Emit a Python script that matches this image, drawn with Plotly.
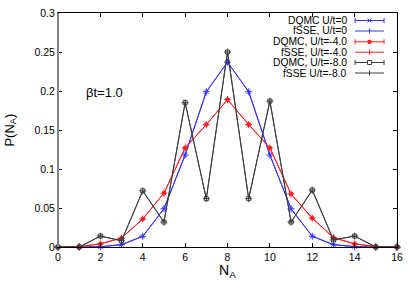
import plotly.graph_objects as go

n_a = list(range(17))
p_u0 = [0.0, 0.0, 0.0003, 0.003, 0.0137, 0.049, 0.118, 0.199, 0.237, 0.199, 0.118, 0.049, 0.0137, 0.003, 0.0005, 0.0, 0.0]
p_u4 = [0.0, 0.0005, 0.004, 0.0115, 0.036, 0.069, 0.127, 0.157, 0.189, 0.157, 0.127, 0.068, 0.037, 0.012, 0.004, 0.0005, 0.0]
p_u8 = [0.0, 0.0, 0.014, 0.008, 0.072, 0.032, 0.185, 0.062, 0.250, 0.062, 0.187, 0.032, 0.073, 0.009, 0.014, 0.0, 0.0]

labels = ["DQMC U/t=0", "fSSE, U/t=0", "DQMC, U/t=-4.0", "fSSE, U/t=-4.0", "DQMC, U/t=-8.0", "fSSE U/t=-8.0"]
x_ticks = list(range(0, 17, 2))

BLUE = "rgb(50,50,255)"
RED = "rgb(255,30,30)"
BLACK = "rgb(60,60,60)"

FONT = "Liberation Sans, Arial, sans-serif"

fig = go.Figure()
series = [
    (p_u0, BLUE, "x-thin", 4),
    (p_u0, BLUE, "cross-thin", 5),
    (p_u4, RED, "square", 3),
    (p_u4, RED, "cross-thin", 5),
    (p_u8, BLACK, "square-open", 4),
    (p_u8, BLACK, "cross-thin", 5),
]
for (vals, col, sym, sz), lab in zip(series, labels):
    fig.add_trace(go.Scatter(
        x=n_a, y=vals, mode="lines+markers", name=lab,
        line=dict(color=col, width=1),
        marker=dict(symbol=sym, size=sz, color=col, line=dict(color=col, width=1)),
        showlegend=False, cliponaxis=False,
    ))

# plot area geometry in pixels
L, R, T, B = 57.5, 397.0, 13.0, 247.0
W, H = R - L, B - T


def px(x):
    return (x - L) / W


def py(y):
    return (B - y) / H


shapes = []
annotations = []
text_right = 349
x0, x1 = 355, 384
xc = (x0 + x1) / 2
rows_y = [20.5, 31.0, 41.8, 52.2, 62.5, 73.0]
cols = [BLUE, BLUE, RED, RED, BLACK, BLACK]
kinds = ["x", "+", "sq", "+", "sqo", "+"]
errbars = [True, False, True, False, True, False]
for lab, yy, col, kind, eb in zip(labels, rows_y, cols, kinds, errbars):
    annotations.append(dict(x=px(text_right), y=py(yy), xref="paper", yref="paper",
                            text=lab, showarrow=False, xanchor="right", yanchor="middle",
                            font=dict(family=FONT, size=10.3, color="black")))
    shapes.append(dict(type="line", xref="paper", yref="paper", x0=px(x0), x1=px(x1),
                       y0=py(yy), y1=py(yy), line=dict(color=col, width=1)))
    if eb:
        for xe in (x0, x1):
            shapes.append(dict(type="line", xref="paper", yref="paper", x0=px(xe), x1=px(xe),
                               y0=py(yy - 2.5), y1=py(yy + 2.5), line=dict(color=col, width=1)))
    if kind == "x":
        shapes.append(dict(type="line", xref="paper", yref="paper", x0=px(xc - 2), x1=px(xc + 2),
                           y0=py(yy - 2), y1=py(yy + 2), line=dict(color=col, width=1)))
        shapes.append(dict(type="line", xref="paper", yref="paper", x0=px(xc - 2), x1=px(xc + 2),
                           y0=py(yy + 2), y1=py(yy - 2), line=dict(color=col, width=1)))
    elif kind == "+":
        shapes.append(dict(type="line", xref="paper", yref="paper", x0=px(xc), x1=px(xc),
                           y0=py(yy - 2.5), y1=py(yy + 2.5), line=dict(color=col, width=1)))
    elif kind == "sq":
        shapes.append(dict(type="rect", xref="paper", yref="paper", x0=px(xc - 1.5), x1=px(xc + 1.5),
                           y0=py(yy - 1.5), y1=py(yy + 1.5), line=dict(color=col, width=1), fillcolor=col))
    elif kind == "sqo":
        shapes.append(dict(type="rect", xref="paper", yref="paper", x0=px(xc - 2), x1=px(xc + 2),
                           y0=py(yy - 2), y1=py(yy + 2), line=dict(color=col, width=1), fillcolor="white"))

# left border drawn grey and heavier as in reference
shapes.append(dict(type="line", xref="paper", yref="paper", x0=0, x1=0, y0=0, y1=1,
                   line=dict(color="rgb(130,130,130)", width=2)))

annotations.append(dict(x=px(104), y=py(92), xref="paper", yref="paper", text="βt=1.0",
                        showarrow=False, xanchor="center", yanchor="middle",
                        font=dict(family=FONT, size=13, color="black")))
annotations.append(dict(x=0.5, y=py(271), xref="paper", yref="paper", text="N<sub>A</sub>",
                        showarrow=False, xanchor="center", yanchor="middle",
                        font=dict(family=FONT, size=14, color="black")))
annotations.append(dict(x=px(9), y=0.5, xref="paper", yref="paper", text="P(N<sub>A</sub>)",
                        showarrow=False, xanchor="center", yanchor="middle", textangle=-90,
                        font=dict(family=FONT, size=13, color="black")))

fig.update_layout(
    width=415, height=291,
    margin=dict(l=L, r=415 - R, t=T, b=291 - B, autoexpand=False),
    paper_bgcolor="white", plot_bgcolor="white",
    font=dict(family=FONT, size=10.5, color="black"),
    shapes=shapes, annotations=annotations,
    showlegend=False,
)
fig.update_xaxes(range=[0, 16], tickvals=x_ticks, ticks="inside", ticklen=4, tickcolor="black",
                 showline=True, linecolor="black", linewidth=1, mirror="ticks", showgrid=False,
                 zeroline=False, tickfont=dict(family=FONT, size=10.5))
fig.update_yaxes(range=[0, 0.3], dtick=0.05, ticks="inside", ticklen=4, tickcolor="black",
                 showline=True, linecolor="black", linewidth=1, mirror="ticks", showgrid=False,
                 zeroline=False, tickfont=dict(family=FONT, size=10.5))

fig.write_html("out.html", config={"displayModeBar": False},
               post_script="document.body.style.margin='0';document.body.style.padding='0';")
